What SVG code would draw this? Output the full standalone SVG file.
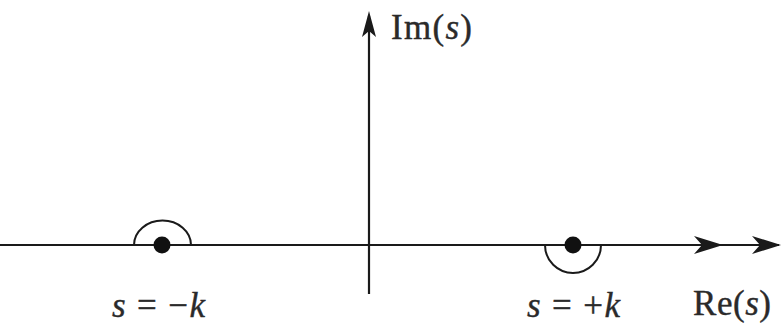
<svg xmlns="http://www.w3.org/2000/svg" width="781" height="327" viewBox="0 0 781 327">
<style>
.ax{stroke:#1a1a1a;stroke-width:2.2;fill:none}
.arc{stroke:#1a1a1a;stroke-width:2;fill:none}
.lbl{font-family:"Liberation Serif","Times New Roman",serif;font-size:35px;fill:#2a2a2a;stroke:#2a2a2a;stroke-width:0.4}
.it{font-style:italic}
.head{fill:#1a1a1a}
</style>
<defs>
<path id="harrow" d="M0,0 L-29,-9 L-21,0 L-29,9 Z"/>
</defs>
<g id="connectors">
<line class="ax" x1="0" y1="245" x2="779" y2="245"/>
<line class="ax" x1="369" y1="294" x2="369" y2="16"/>
<use href="#harrow" class="head" x="723" y="245"/>
<use href="#harrow" class="head" x="781" y="245"/>
<path class="head" d="M369,11 L376,37 L369,31 L362,37 Z"/>
</g>
<g id="pole-left">
<path class="arc" d="M134,245 A28,24 0 0 1 191,245"/>
<circle cx="162" cy="245" r="8.5" fill="#111"/>
</g>
<g id="pole-right">
<path class="arc" d="M545,245 A28,28 0 0 0 601,245"/>
<circle cx="573" cy="245" r="8.5" fill="#111"/>
</g>
<g id="labels">
<text class="lbl" x="391" y="39" textLength="81" lengthAdjust="spacing">Im(<tspan class="it">s</tspan>)</text>
<text class="lbl" x="112" y="317" textLength="93" lengthAdjust="spacing"><tspan class="it">s</tspan> = −<tspan class="it">k</tspan></text>
<text class="lbl" x="527" y="317" textLength="93" lengthAdjust="spacing"><tspan class="it">s</tspan> = +<tspan class="it">k</tspan></text>
<text class="lbl" x="693" y="315" textLength="78" lengthAdjust="spacing">Re(<tspan class="it">s</tspan>)</text>
</g>
</svg>
